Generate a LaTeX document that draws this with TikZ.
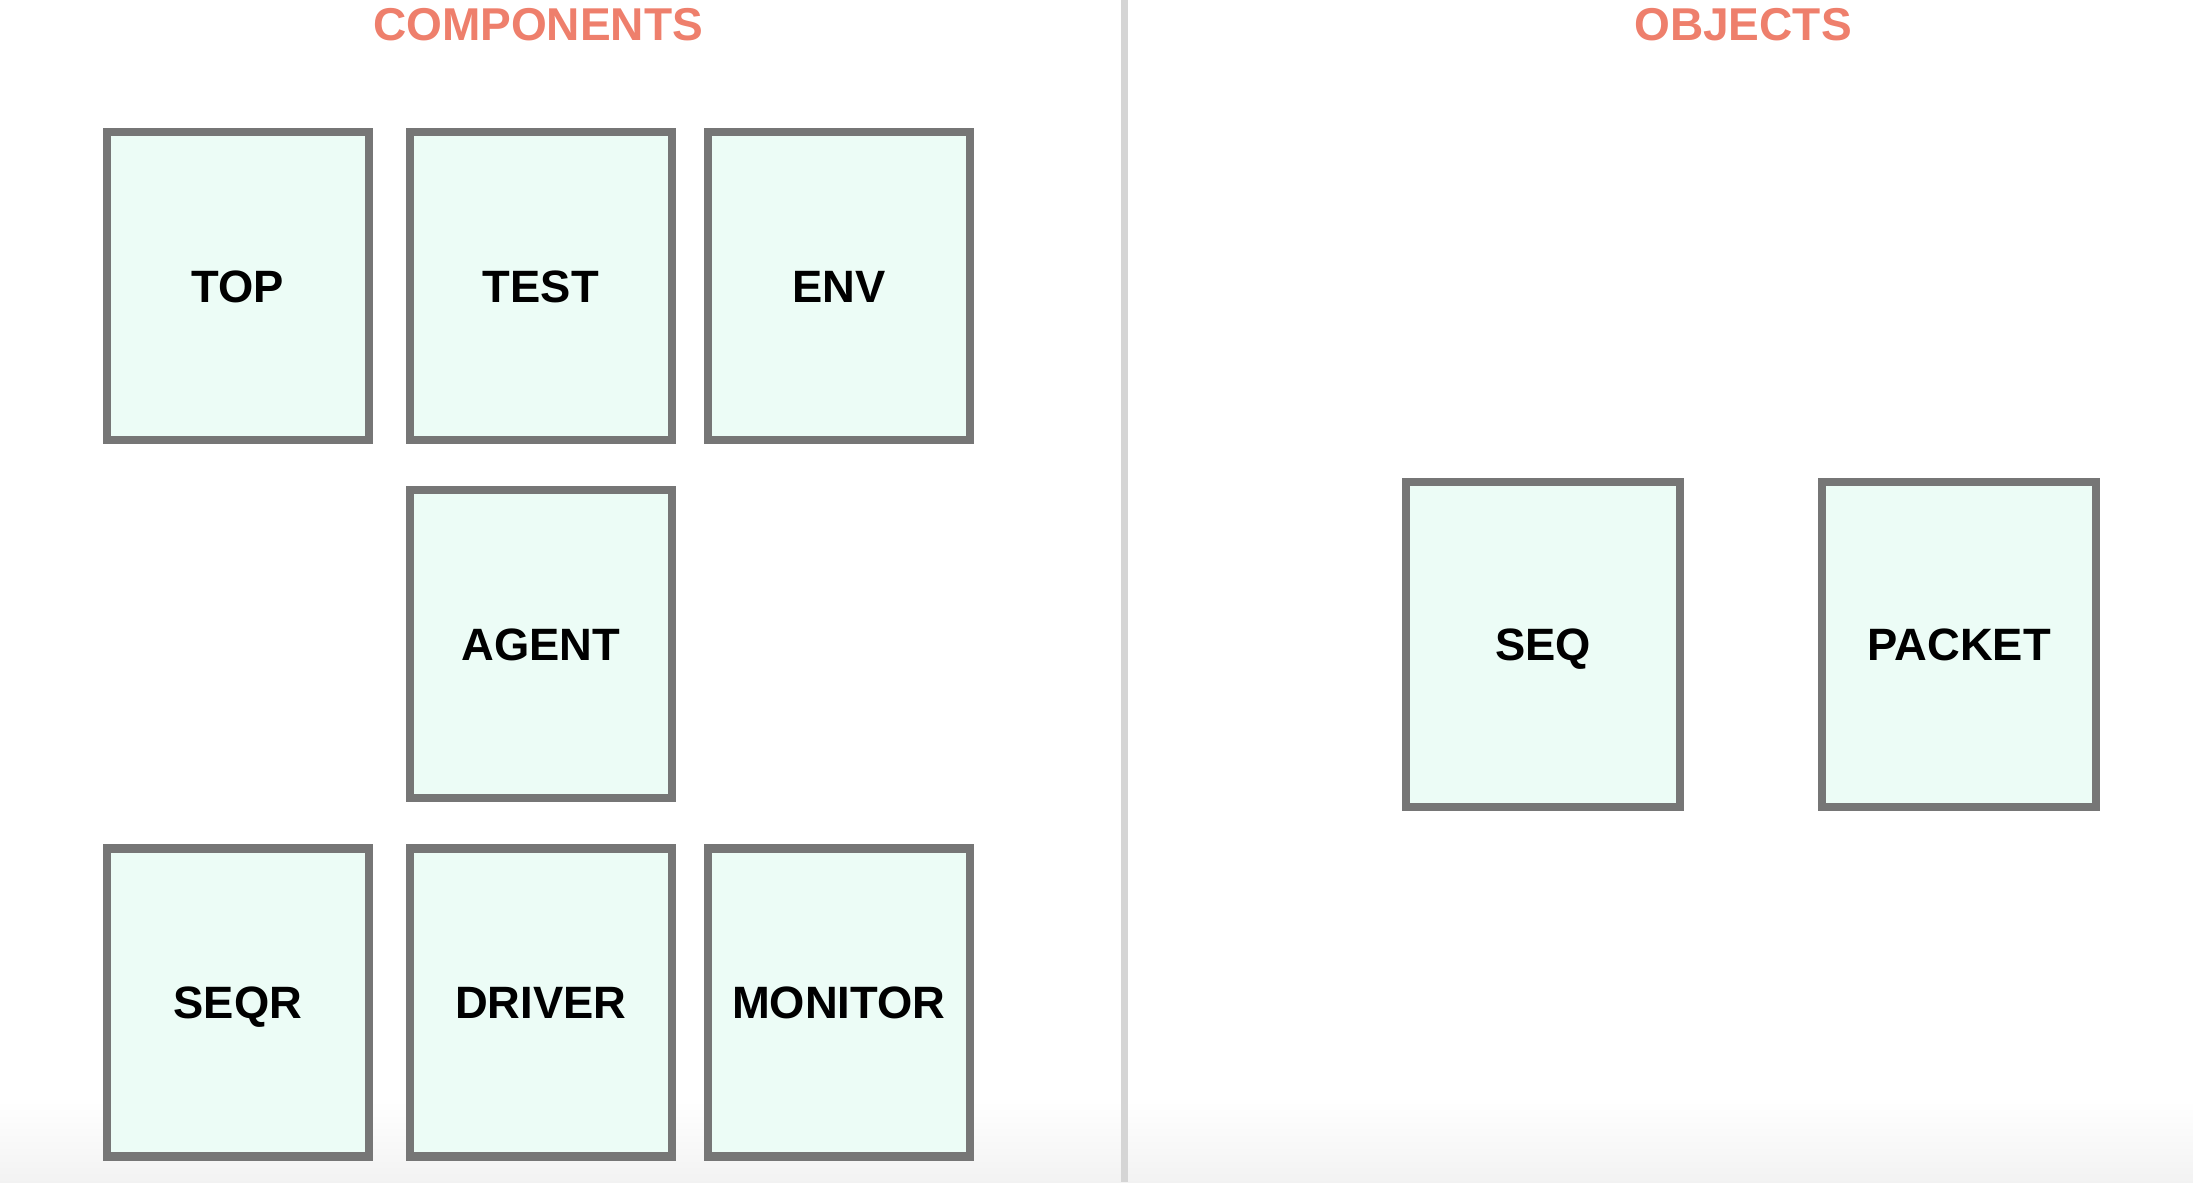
\documentclass[tikz,border=0pt]{standalone}
\usepackage{fontspec}
\setmainfont{Liberation Sans}
\usetikzlibrary{positioning}
\definecolor{boxfill}{HTML}{ECFCF6}
\definecolor{boxline}{HTML}{767676}
\definecolor{headcol}{HTML}{EE7F6C}
\definecolor{divcol}{HTML}{D5D5D5}
\tikzset{
  blk/.style={draw=boxline,fill=boxfill,line width=0.083cm,
    minimum width=2.62cm,minimum height=3.08cm,inner sep=0,
    text height=9.3pt,text depth=0pt,
    font=\fontsize{12.9pt}{15pt}\selectfont\bfseries},
  obj/.style={blk,minimum width=2.74cm,minimum height=3.25cm},
  head/.style={headcol,inner sep=0,
    font=\fontsize{13.1pt}{16pt}\selectfont\bfseries}
}

\begin{document}
\begin{tikzpicture}
    \useasboundingbox (0,0) rectangle (21.93,-11.82);
    \shade[top color=white,bottom color=black!5] (0,-11.0) rectangle (21.93,-11.82);

    % divider
    \coordinate (divtop) at (11.245,0);
    \coordinate (divbot) at (11.245,-11.82);
    \draw[divcol,line width=0.07cm] (divtop) -- (divbot);

    \node[head] (comphead) at (5.38,-0.25) {COMPONENTS};
    \node[head] (objhead) at (17.43,-0.25) {OBJECTS};

    % components
    \node[blk] (top) at (2.38,-2.86) {TOP};
    \node[blk,right=0.325cm of top] (test) {TEST};
    \node[blk,right=0.276cm of test] (env) {ENV};
    \node[blk,below=0.42cm of test] (agent) {AGENT};
    \node[blk,below=0.42cm of agent] (driver) {DRIVER};
    \node[blk,left=0.325cm of driver] (seqr) {SEQR};
    \node[blk,right=0.276cm of driver] (monitor) {MONITOR};

    % objects
    \node[obj] (seq) at (15.43,-6.445) {SEQ};
    \node[obj,right=1.34cm of seq] (packet) {PACKET};
\end{tikzpicture}
\end{document}
